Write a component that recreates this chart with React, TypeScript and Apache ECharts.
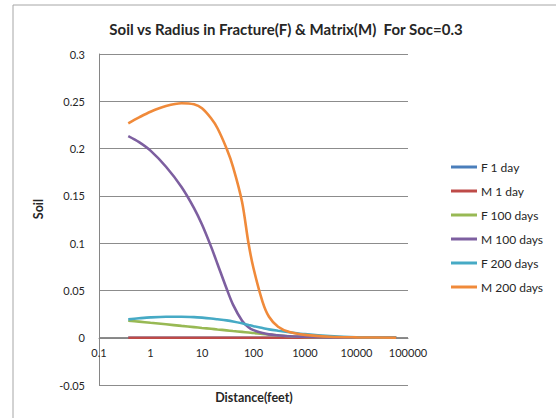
import React, { useEffect, useRef } from "react";
import * as echarts from "echarts";

const distance = [0.37, 0.6, 1, 2, 4, 7, 10, 15, 20, 30, 40, 60, 80, 100, 150, 200, 300, 500, 1000, 3000, 10000, 59000];

const f1Day = [0, 0, 0, 0, 0, 0, 0, 0, 0, 0, 0, 0, 0, 0, 0, 0, 0, 0, 0, 0, 0, 0];
const m1Day = [0, 0, 0, 0, 0, 0, 0, 0, 0, 0, 0, 0, 0, 0, 0, 0, 0, 0, 0, 0, 0, 0];
const f100Days = [0.018, 0.017, 0.0158, 0.0142, 0.0125, 0.0112, 0.0103, 0.0094, 0.0087, 0.0078, 0.0071, 0.0062, 0.0055, 0.0049, 0.004, 0.0033, 0.0025, 0.0016, 0.0008, 0.0002, 0, 0];
const m100Days = [0.2132, 0.2068, 0.1978, 0.1808, 0.1594, 0.1371, 0.1197, 0.0963, 0.078, 0.052, 0.035, 0.018, 0.011, 0.008, 0.005, 0.0035, 0.0025, 0.0015, 0.001, 0.0003, 0, 0];
const f200Days = [0.0194, 0.0205, 0.0215, 0.0222, 0.0222, 0.0218, 0.0212, 0.0203, 0.0195, 0.0183, 0.0172, 0.0152, 0.0135, 0.0122, 0.0102, 0.0088, 0.0074, 0.0058, 0.0038, 0.0017, 0.0005, 0];
const m200Days = [0.2267, 0.233, 0.239, 0.245, 0.248, 0.2468, 0.2426, 0.232, 0.2215, 0.2, 0.1807, 0.1436, 0.0998, 0.0734, 0.038, 0.0222, 0.0116, 0.006, 0.003, 0.001, 0.0004, 0];

const seriesNames = ["F 1 day", "M 1 day", "F 100 days", "M 100 days", "F 200 days", "M 200 days"];
const seriesColors = ["#4a7ebb", "#be4b48", "#98b954", "#7d5fa0", "#46aac5", "#f08a3a"];
const seriesValues = [f1Day, m1Day, f100Days, m100Days, f200Days, m200Days];

const xTickLabels = ["0.1", "1", "10", "100", "1000", "10000", "100000"];
const yTickLabels = ["-0.05", "0", "0.05", "0.1", "0.15", "0.2", "0.25", "0.3"];

const titleText = "Soil vs Radius in Fracture(F) & Matrix(M)  For Soc=0.3";
const xName = "Distance(feet)";
const yName = "Soil";

export default function App() {
  const ref = useRef<HTMLDivElement>(null);
  useEffect(() => {
    if (!ref.current) return;
    const chart = echarts.init(ref.current, null, { renderer: "svg" });
    const font = "Lato, 'Open Sans', sans-serif";
    chart.setOption({
      animation: false,
      textStyle: { fontFamily: font },
      grid: { left: 99, right: 148, top: 54, bottom: 33, containLabel: false },
      xAxis: {
        type: "log",
        logBase: 10,
        min: 0.1,
        max: 100000,
        offset: -47,
        axisLine: { show: true, onZero: false, lineStyle: { color: "#868686", width: 1 } },
        axisTick: { show: false },
        splitLine: { show: false },
        axisLabel: {
          color: "#262626",
          fontSize: 11,
          fontFamily: font,
          margin: 9,
          formatter: (v: number) => {
            const idx = Math.round(Math.log10(v)) + 1;
            return xTickLabels[idx] ?? String(v);
          },
        },
      },
      yAxis: {
        type: "value",
        min: -0.05,
        max: 0.3,
        interval: 0.05,
        axisLine: { show: true, lineStyle: { color: "#868686", width: 1 } },
        axisTick: { show: false },
        splitLine: { show: true, lineStyle: { color: "#8c8c8c", width: 1 } },
        axisLabel: {
          color: "#262626",
          fontSize: 11,
          fontFamily: font,
          margin: 14,
          formatter: (v: number) => {
            const idx = Math.round((v + 0.05) / 0.05);
            return yTickLabels[idx] ?? String(v);
          },
        },
      },
      legend: {
        orient: "vertical",
        left: 451,
        top: 161,
        padding: 0,
        itemWidth: 26,
        itemHeight: 3,
        itemGap: 12,
        icon: "rect",
        textStyle: { color: "#262626", fontSize: 12, fontFamily: font, padding: [0, 0, 0, -1] },
        data: seriesNames,
      },
      series: seriesNames.map((name, i) => ({
        name,
        type: "line",
        data: distance.map((d, j) => [d, seriesValues[i][j]]),
        showSymbol: false,
        symbol: "none",
        smooth: 0.3,
        lineStyle: { color: seriesColors[i], width: 2.6 },
        itemStyle: { color: seriesColors[i] },
        z: 2 + i,
      })),
      graphic: [
        {
          type: "rect",
          shape: { x: 13, y: 5, width: 600, height: 500 },
          style: { fill: "none", stroke: "#a6a6a6", lineWidth: 1 },
          silent: true,
        },
        {
          type: "text",
          x: 286,
          y: 29,
          style: {
            text: titleText,
            textAlign: "center",
            textVerticalAlign: "middle",
            font: "bold 15px " + font,
            fill: "#262626",
          },
        },
        {
          type: "text",
          x: 254,
          y: 397,
          style: {
            text: xName,
            textAlign: "center",
            textVerticalAlign: "middle",
            font: "bold 12.5px " + font,
            fill: "#262626",
          },
        },
        {
          type: "text",
          x: 38,
          y: 209,
          rotation: Math.PI / 2,
          style: {
            text: yName,
            textAlign: "center",
            textVerticalAlign: "middle",
            font: "bold 12.5px " + font,
            fill: "#262626",
          },
        },
      ],
    });
    return () => chart.dispose();
  }, []);
  return (
    <div
      ref={ref}
      style={{ position: "fixed", left: 0, top: 0, width: 556, height: 418, background: "#fff" }}
    />
  );
}
